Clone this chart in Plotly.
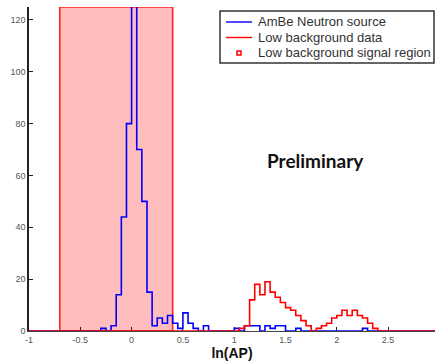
import plotly.graph_objects as go

# ---- data ----
bin_width = 0.05
blue_start = -0.30
blue_counts = [1, 0, 2, 14, 44, 80, 160, 70, 50, 15, 2, 5, 3, 6, 3, 1, 7, 3, 1, 0, 2,
               0, 0, 0, 0, 0, 1, 0, 2, 2, 2, 0, 2, 1, 2, 2, 0, 0, 1,
               0, 0, 0, 0, 0, 0, 0, 0, 0, 0, 0, 0, 1]
red_start = 1.05
red_counts = [1, 2, 12, 18, 14, 19, 15, 13, 11, 9, 8, 6, 4, 2, 0, 1, 2, 3, 5, 6, 8, 6, 8, 6, 5, 3, 1]
region = [-0.7, 0.4]
x_range = [-1, 2.957]
y_range = [0, 125]
x_ticks = [-1, -0.5, 0, 0.5, 1, 1.5, 2, 2.5, 3]
x_ticklabels = ["-1", "-0.5", "0", "0.5", "1", "1.5", "2", "2.5", "3"]
y_ticks = [0, 20, 40, 60, 80, 100, 120]
names = ["AmBe Neutron source", "Low background data", "Low background signal region"]
colors = ["#0000ff", "#ff0000", "#ff0000"]

# plot area in pixels
W, H = 435, 363
ML, MR, MT, MB = 29, 0, 7, 32
PW, PH = W - ML - MR, H - MT - MB


def px(xp):
    return (xp - ML) / PW


def py(yp):
    return (H - MB - yp) / PH


def steps(start, counts):
    n = len(counts)
    xs = [-1.0] + [start + i * bin_width for i in range(n)] + [start + n * bin_width, 3.0]
    ys = [0] + list(counts) + [0, 0]
    return xs, ys


fig = go.Figure()
bx, by = steps(blue_start, blue_counts)
rx, ry = steps(red_start, red_counts)

fig.add_trace(go.Scatter(x=bx, y=by, mode="lines", line=dict(color=colors[0], width=1.6, shape="hv"),
                         name=names[0], showlegend=False))
fig.add_trace(go.Scatter(x=rx, y=ry, mode="lines", line=dict(color=colors[1], width=1.6, shape="hv"),
                         name=names[1], showlegend=False))

fig.add_shape(type="rect", xref="x", yref="y", x0=region[0], x1=region[1], y0=y_range[0], y1=y_range[1],
              fillcolor="rgba(255,0,0,0.26)", line=dict(color="#ff2020", width=1.6), layer="below")

# ---- hand-drawn legend ----
fig.add_shape(type="rect", xref="paper", yref="paper", x0=px(220), x1=px(434), y0=py(63), y1=py(11),
              fillcolor="white", line=dict(color="#333", width=1.5))
rows = [22, 37.5, 53]
for i, (name, yy) in enumerate(zip(names, rows)):
    if i < 2:
        fig.add_shape(type="line", xref="paper", yref="paper", x0=px(226), x1=px(252), y0=py(yy), y1=py(yy),
                      line=dict(color=colors[i], width=1.4))
    else:
        fig.add_shape(type="rect", xref="paper", yref="paper", x0=px(237), x1=px(241), y0=py(yy + 2),
                      y1=py(yy - 2), fillcolor="white", line=dict(color=colors[i], width=1.5))
    fig.add_annotation(text=name, x=px(256), y=py(yy), xref="paper", yref="paper", xanchor="left",
                       yanchor="middle", showarrow=False,
                       font=dict(family="Liberation Sans", size=13, color="#333"))

fig.add_annotation(text="<b>Preliminary</b>", x=px(315), y=py(160), xref="paper", yref="paper",
                   xanchor="center", yanchor="middle",
                   showarrow=False, font=dict(family="Lato", size=19, color="#111"))

fig.update_layout(
    width=W, height=H,
    margin=dict(l=ML, r=MR, t=MT, b=MB),
    paper_bgcolor="white", plot_bgcolor="white",
    showlegend=False,
    font=dict(family="Liberation Sans", size=9, color="#555"),
)

fig.update_xaxes(range=x_range, tickvals=x_ticks, ticktext=x_ticklabels, ticks="inside", ticklen=4,
                 tickcolor="#222", showline=True, linecolor="#444", linewidth=1, showgrid=False,
                 zeroline=False, layer="below traces",
                 title=dict(text="<b>ln(AP)</b>", font=dict(family="Liberation Sans", size=14, color="#111"),
                            standoff=4))
fig.update_yaxes(range=y_range, tickvals=y_ticks, ticks="inside", ticklen=4, tickcolor="#222",
                 showline=True, linecolor="#222", linewidth=1.5, showgrid=False, zeroline=False)

fig.write_html("out.html")
